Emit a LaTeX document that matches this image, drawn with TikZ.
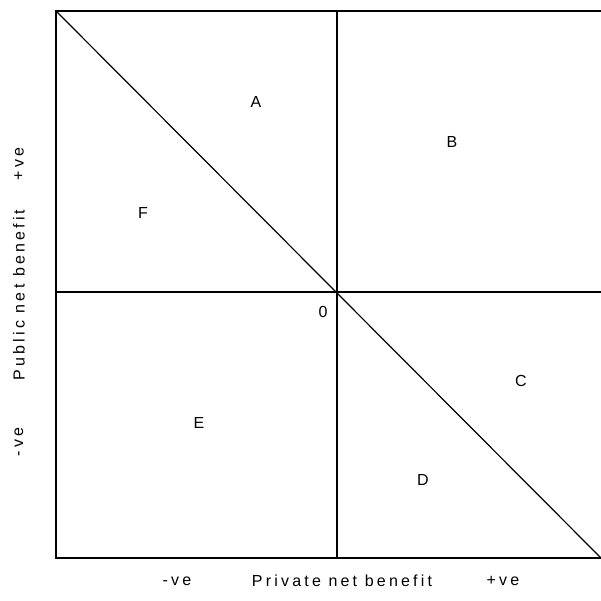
\documentclass[tikz,border=0pt]{standalone}
\usepackage{fontspec}
\setmainfont{Liberation Sans}[LetterSpace=20]
\begin{document}
\begin{tikzpicture}[x=1pt,y=-1pt,
  lab/.style={font=\fontsize{16}{18}\selectfont, inner sep=0pt},
  ln/.style={line width=1.2pt}]
\useasboundingbox (0,0) rectangle (601,600);
\coordinate (tl) at (56,11);
\coordinate (tr) at (601,11);
\coordinate (bl) at (56,558);
\coordinate (br) at (601,558);
\coordinate (ot) at (337,11);
\coordinate (ob) at (337,558);
\coordinate (ol) at (56,292);
\coordinate (or) at (601,292);
\draw[ln] (tr) -- (tl) -- (bl) -- (br);
\draw[ln] (ot) -- (ob);
\draw[ln] (ol) -- (or);
\draw[ln] (tl) -- (br);
\node[lab] (A) at (256,102) {A};
\node[lab] (B) at (452,142) {B};
\node[lab] (F) at (143,213) {F};
\node[lab] (O) at (323,312) {0};
\node[lab] (C) at (521,381) {C};
\node[lab] (E) at (199,423) {E};
\node[lab] (D) at (423,480) {D};
\node[lab] (xm) at (177,581) {-ve};
\node[lab] (xl) at (342,581) {Private net benefit};
\node[lab] (xp) at (503,581) {+ve};
\node[lab,rotate=90] (yp) at (19,164) {+ve};
\node[lab,rotate=90] (yl) at (19,295) {Public net benefit};
\node[lab,rotate=90] (ym) at (19,442) {-ve};
\end{tikzpicture}
\end{document}
